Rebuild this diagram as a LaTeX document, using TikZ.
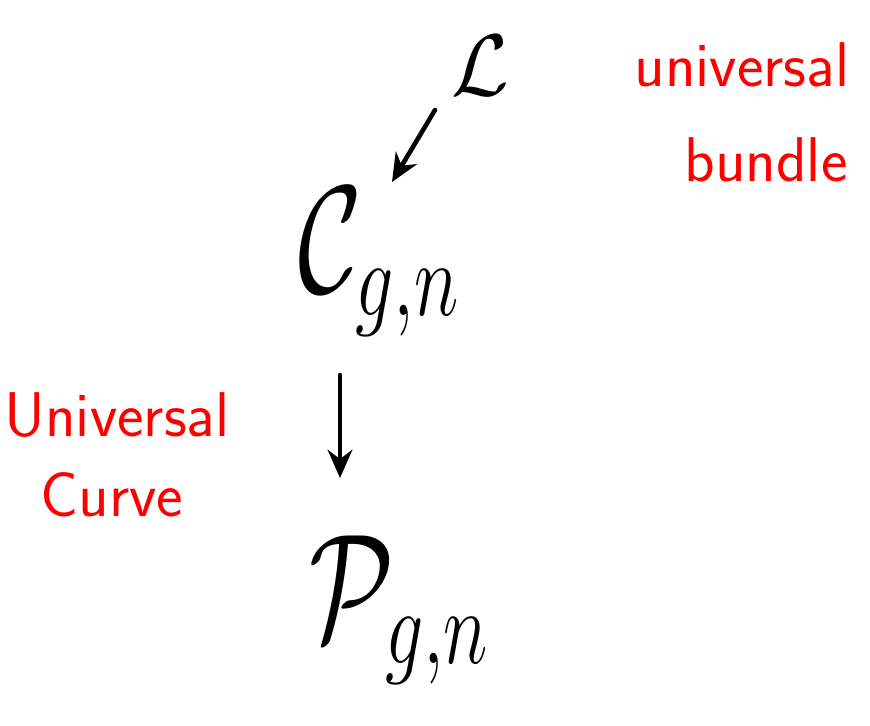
\documentclass[tikz,border=0pt]{standalone}
\usepackage{tikz}
\usetikzlibrary{arrows.meta,positioning,calc}
\usepackage{xcolor}
\usepackage{amsmath}
\usepackage{amssymb}
\definecolor{Ink}{HTML}{000000}
\definecolor{Note}{HTML}{FF0000}
\newcommand{\bigsym}[3]{\scalebox{#1}[#2]{$#3$}}
\tikzset{
  sym/.style={inner sep=0pt,text=Ink,font=\fontsize{20}{24}\selectfont},
  note/.style={inner sep=0pt,text=Note,font=\fontsize{36}{40}\selectfont\sffamily},
  maparrow/.style={-{Stealth[length=16pt,width=14pt]},Ink,line width=2.6pt,line cap=round}
}
\begin{document}
\begin{tikzpicture}[x=0.02cm,y=-0.02cm]
\useasboundingbox (0,0) rectangle (870,726);
% spaces
\node[sym] (L) at (480,66) {\bigsym{2.3}{2.4}{\mathcal{L}}};
\node[sym] (C) at (380,262) {\bigsym{3}{4.2}{\mathcal{C}_{g,n}}};
\node[sym] (P) at (400,610) {\bigsym{3}{4.2}{\mathcal{P}_{g,n}}};
% maps
\coordinate (lfoot) at (435,110);
\coordinate (chead) at (392,182);
\draw[maparrow] (lfoot) -- (chead);
\coordinate (ctop) at (340,375);
\coordinate (pbot) at (340,478);
\draw[maparrow] (ctop) -- (pbot);
% remarks
\node[note] (ub1) at (742,65) {universal};
\node[note] (ub2) at (766,160) {bundle};
\node[note] (uc1) at (117,415) {Universal};
\node[note] (uc2) at (112,495) {Curve};
\end{tikzpicture}
\end{document}
